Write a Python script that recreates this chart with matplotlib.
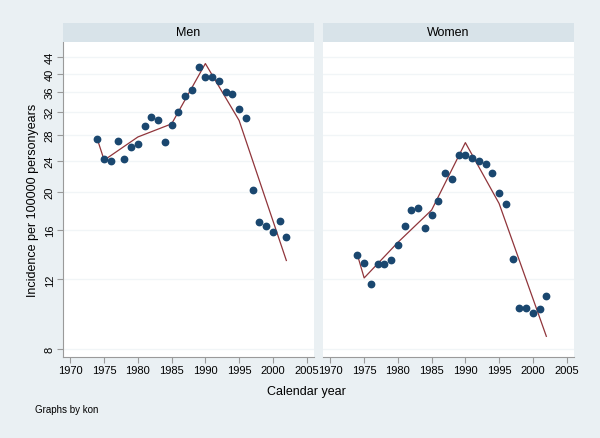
import matplotlib
matplotlib.use("Agg")
import matplotlib.pyplot as plt
from matplotlib.ticker import FixedLocator, NullLocator, FixedFormatter

plt.rcParams['font.family'] = ['Liberation Sans', 'DejaVu Sans']

# observed incidence per 100000 person-years
years_men = [1974, 1975, 1976, 1977, 1978, 1979, 1980, 1981, 1982, 1983, 1984, 1985,
             1986, 1987, 1988, 1989, 1990, 1991, 1992, 1993, 1994, 1995, 1996, 1997,
             1998, 1999, 2000, 2001, 2002]
rate_men = [27.2, 24.3, 24.0, 26.9, 24.3, 26.1, 26.5, 29.4, 31.0, 30.5, 26.8, 29.6,
            32.0, 35.1, 36.4, 41.5, 39.1, 39.1, 38.4, 35.8, 35.5, 32.5, 30.9, 20.2,
            16.8, 16.4, 15.8, 16.9, 15.4]

years_women = [1974, 1975, 1976, 1977, 1978, 1979, 1980, 1981, 1982, 1983, 1984, 1985,
               1986, 1987, 1988, 1989, 1990, 1991, 1992, 1993, 1994, 1995, 1996, 1997,
               1998, 1999, 2000, 2001, 2002]
rate_women = [13.85, 13.2, 11.7, 13.1, 13.1, 13.4, 14.7, 16.4, 18.0, 18.2, 16.2, 17.5,
              19.0, 22.3, 21.6, 24.9, 24.9, 24.4, 24.0, 23.5, 22.3, 19.9, 18.7, 13.5,
              10.15, 10.15, 9.87, 10.1, 10.9]

# fitted (joinpoint) lines
fit_years = [1974, 1975, 1980, 1985, 1990, 1995, 2002]
fit_men = [27.2, 24.1, 27.6, 29.8, 42.4, 30.4, 13.4]
fit_women = [13.85, 12.1, 14.9, 18.0, 26.7, 18.7, 8.6]

yticks = [8, 12, 16, 20, 24, 28, 32, 36, 40, 44]
xticks = [1970, 1975, 1980, 1985, 1990, 1995, 2000, 2005]

bg = '#eaf0f3'
strip_c = '#d8e3e9'
navy = '#1a476f'
maroon = '#90353b'
axc = '#9a9a9a'

fig = plt.figure(figsize=(6, 4.39), dpi=100, facecolor=bg)

panels = [("Men", years_men, rate_men, fit_men, 63),
          ("Women", years_women, rate_women, fit_women, 323)]

for i, (title, yrs, rate, fit, left) in enumerate(panels):
    ax = fig.add_axes([left / 600, 81 / 439, 251 / 600, 315 / 439])
    ax.set_facecolor('white')
    ax.set_yscale('log')
    ax.set_ylim(7.62, 48.1)
    ax.set_xlim(1968.9, 2006.1)
    for v in yticks:
        ax.axhline(v, color='#f1f5f7', lw=1.0, zorder=0)
    ax.plot(yrs, rate, 'o', color=navy, ms=4.6, zorder=3)
    ax.plot(fit_years, fit, '-', color=maroon, lw=0.9, zorder=2)

    ax.yaxis.set_major_locator(FixedLocator(yticks))
    ax.yaxis.set_minor_locator(NullLocator())
    ax.xaxis.set_major_locator(FixedLocator(xticks))
    ax.xaxis.set_major_formatter(FixedFormatter([str(x) for x in xticks]))
    ax.tick_params(axis='x', length=4, width=0.8, color=axc, labelsize=8, pad=2)
    for s in ['top', 'right']:
        ax.spines[s].set_visible(False)
    ax.spines['bottom'].set_color(axc)
    ax.spines['bottom'].set_linewidth(0.8)
    if i == 0:
        ax.spines['left'].set_color(axc)
        ax.spines['left'].set_linewidth(0.8)
        ax.yaxis.set_major_formatter(FixedFormatter([str(v) for v in yticks]))
        ax.tick_params(axis='y', length=4, width=0.8, color=axc, labelsize=8, pad=2)
        for lab in ax.get_yticklabels():
            lab.set_rotation(90)
            lab.set_va('center')
        ax.set_ylabel("Incidence per 100000 personyears", fontsize=9, labelpad=4)
    else:
        ax.spines['left'].set_visible(False)
        ax.tick_params(axis='y', length=0, labelleft=False)

    sax = fig.add_axes([left / 600, 396 / 439, 251 / 600, 19 / 439])
    sax.set_facecolor(strip_c)
    sax.set_xticks([])
    sax.set_yticks([])
    for s in sax.spines.values():
        s.set_visible(False)
    sax.text(0.5, 0.5, title, ha='center', va='center', fontsize=9,
             transform=sax.transAxes)

fig.text(306 / 600, 1 - 392 / 439, "Calendar year", ha='center', va='center', fontsize=9)
fig.text(35 / 600, 1 - 410 / 439, "Graphs by kon", ha='left', va='center', fontsize=7)

fig.savefig("out.png", dpi=100, facecolor=bg)
